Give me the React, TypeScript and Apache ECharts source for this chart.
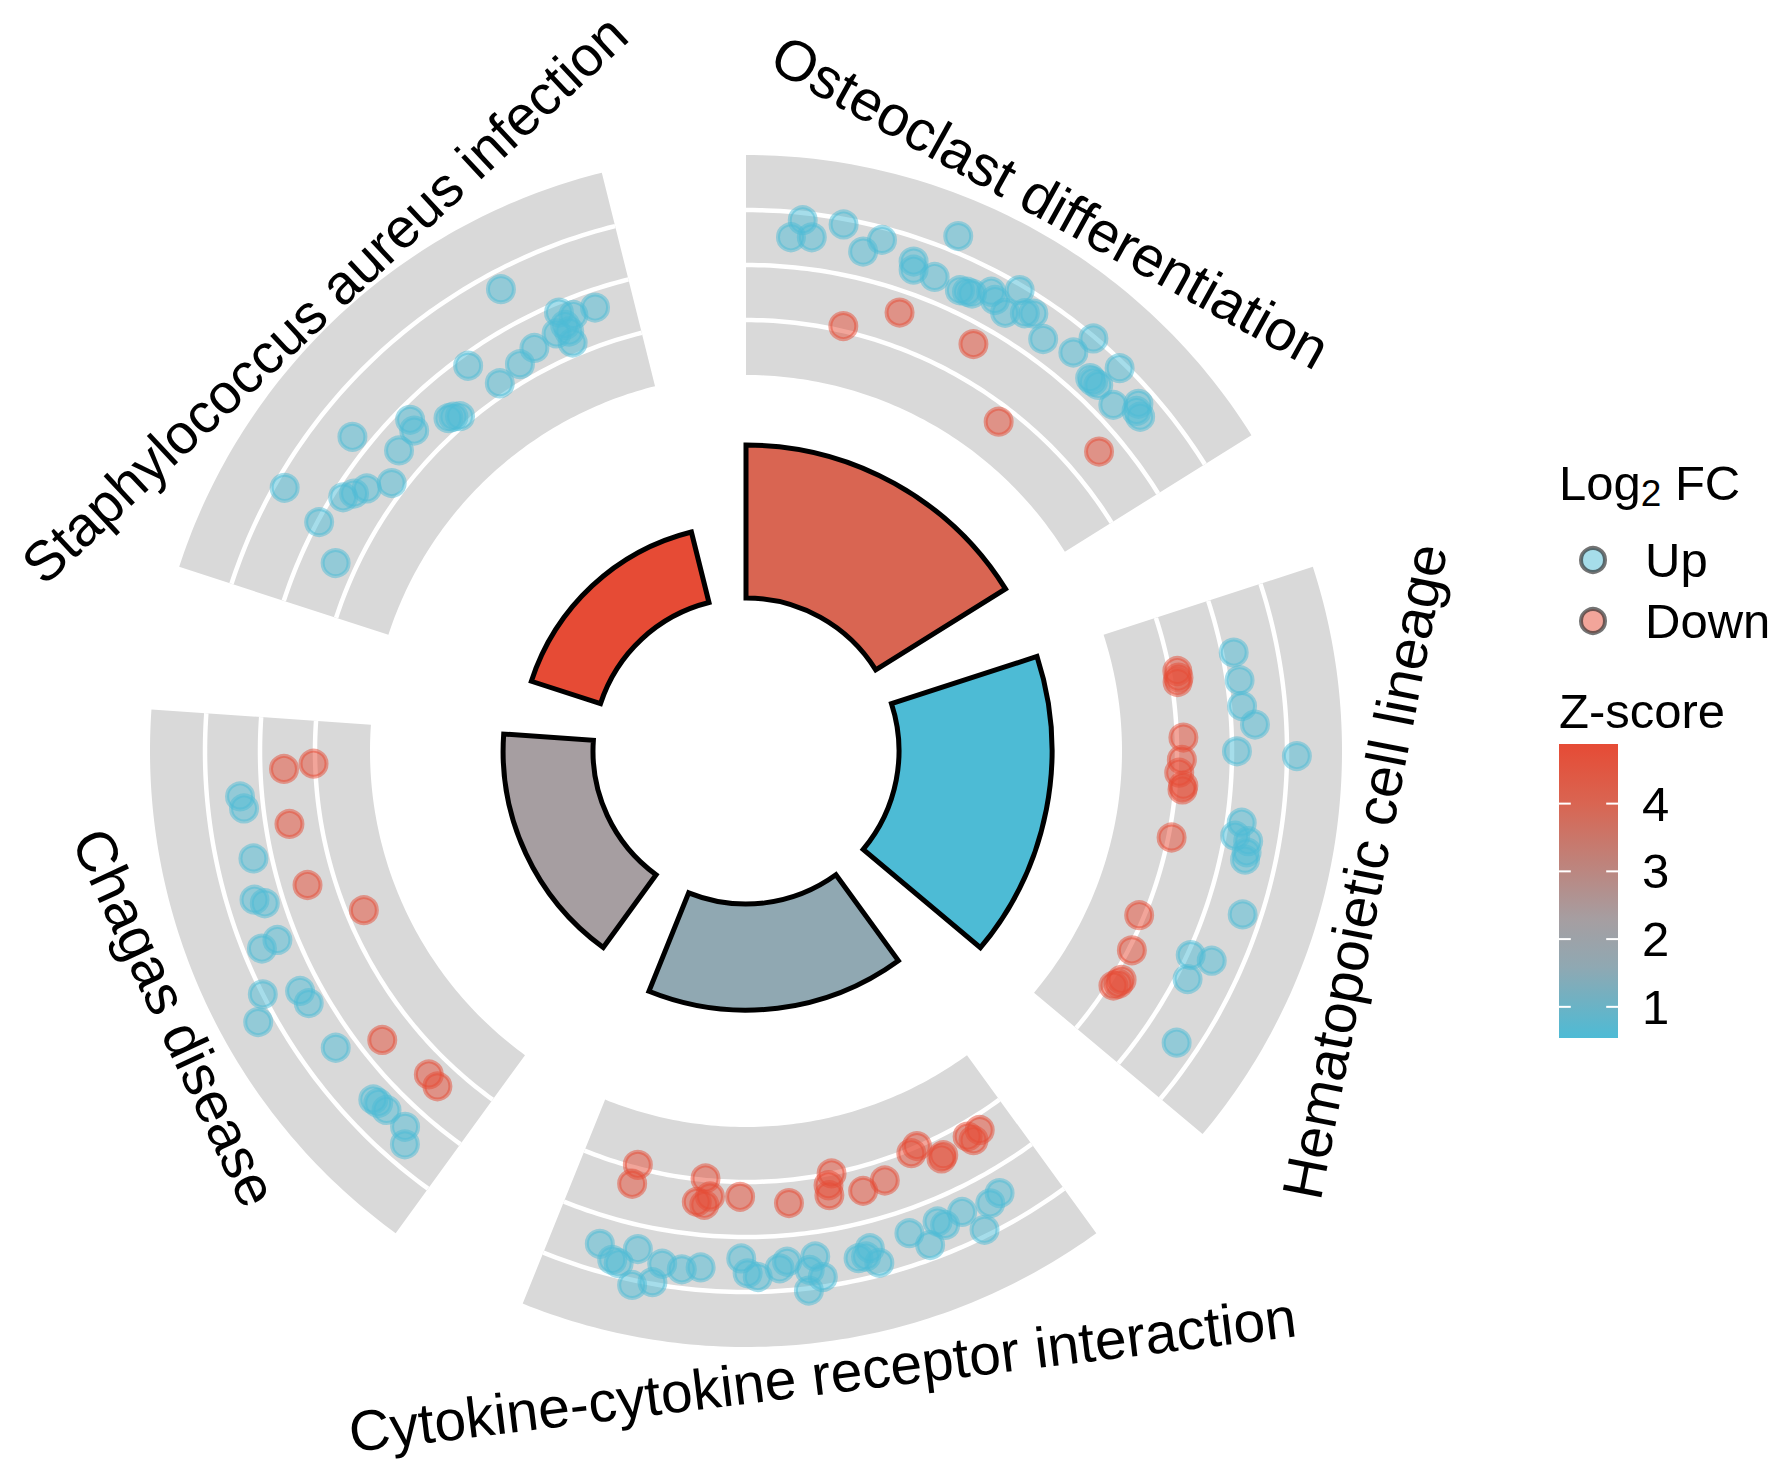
import React, { useEffect, useRef } from 'react';
import * as echarts from 'echarts';

// ---------- data ----------
const categories = [
  'Osteoclast differentiation',
  'Hematopoietic cell lineage',
  'Cytokine-cytokine receptor interaction',
  'Chagas disease',
  'Staphylococcus aureus infection',
];
// inner bar height (e.g. -log10 adjusted p)
const barValues = [8.0, 8.0, 5.55, 4.7, 3.8];
// z-score for bar colour
const zScores = [4.0, 0.54, 1.6, 2.3, 4.88];
const zTicks = [1, 2, 3, 4];
const zMin = 0.54;
const zMax = 4.88;
const zColorStops: [number, string][] = [
  [0.54, '#4DBBD5'],
  [1.6, '#90A8B2'],
  [2.3, '#A69EA1'],
  [4.0, '#D96552'],
  [4.88, '#E64B35'],
];
// outer ring: radial level scale and grid levels
const trackMin = 0;
const trackMax = 4;
const trackLevels = [1, 2, 3];
const directions = ['Up', 'Down'];

// genes: [angular offset within the term's sector (deg), radial level]
const osteoUp: [number, number][] = [
  [6.1, 2.87], [5.0, 2.54], [7.3, 2.58], [10.5, 2.9], [13.2, 2.49], [14.9, 2.78], [22.4, 3.29],
  [18.9, 2.57], [19.2, 2.43], [21.7, 2.44], [25.7, 2.43], [26.3, 2.44], [28.1, 2.63], [28.9, 2.53],
  [30.6, 2.42], [30.7, 2.91], [32.5, 2.6], [33.3, 2.68], [35.8, 2.4], [39.4, 2.54], [40.1, 2.97],
  [42.7, 2.39], [43.9, 2.4], [44.3, 2.89], [46.7, 2.34], [48.5, 2.69], [49.7, 2.56], [48.95, 2.58],
  [43.2, 2.38], [24.9, 2.4],
];
const osteoDown: [number, number][] = [
  [12.9, 1.09], [19.3, 1.61], [29.2, 1.64], [37.5, 0.71], [49.7, 1.58],
];
const hemaUp: [number, number][] = [
  [6.59, 2.21], [9.83, 2.23], [12.83, 2.22], [15.03, 2.43], [18.04, 2.09], [18.53, 3.18], [26.23, 2.27],
  [27.82, 2.19], [28.18, 2.44], [29.44, 2.45], [30.29, 2.45], [36.21, 2.67], [42.65, 2.06], [42.24, 2.45],
  [45.32, 2.2], [52.11, 2.62],
];
const hemaDown: [number, number][] = [
  [7.49, 1.14], [8.92, 1.11], [8.36, 1.14], [16.24, 1.12], [19.16, 1.09], [20.87, 1.05], [22.54, 1.14],
  [23.03, 1.13], [29.49, 1.06], [40.66, 0.91], [45.32, 1.06], [49.35, 1.16], [50.56, 1.09], [50.0, 1.15],
];
const cytoUp: [number, number][] = [
  [52.52, 2.51], [50.73, 2.73], [49.96, 2.76], [48.25, 2.43], [48.04, 3.09], [45.99, 2.97], [45.28, 2.61],
  [43.06, 2.66], [41.02, 2.59], [36.54, 2.39], [35.82, 2.66], [34.72, 2.73], [32.28, 2.59], [31.4, 2.48],
  [28.2, 2.44], [29.0, 2.67], [27.69, 2.83], [29.35, 3.04], [23.49, 2.61], [22.01, 2.48], [21.4, 2.78],
  [22.64, 2.61], [17.28, 2.42], [15.56, 2.75], [13.85, 2.4], [13.21, 2.51], [10.88, 2.42], [9.52, 2.89],
  [7.63, 2.51], [6.16, 2.43],
];
const cytoDown: [number, number][] = [
  [50.65, 0.94], [50.74, 1.3], [41.41, 0.97], [42.23, 1.41], [40.62, 1.29], [41.25, 1.45], [36.76, 1.27],
  [30.57, 1.42], [24.55, 1.0], [25.24, 1.2], [25.37, 1.38], [21.09, 1.44], [18.09, 1.37], [13.66, 1.07],
  [12.6, 0.99], [9.98, 1.34], [6.11, 1.25], [4.34, 1.26], [5.69, 1.36], [10.37, 1.38],
];
const chagasUp: [number, number][] = [
  [48.87, 2.4], [47.47, 2.35], [41.7, 2.33], [37.17, 2.5], [36.44, 2.34], [32.04, 2.35], [31.8, 2.67],
  [27.27, 3.0], [24.94, 3.31], [25.72, 2.37], [24.03, 2.34], [18.12, 2.37], [10.26, 2.42], [9.04, 2.4],
  [6.21, 2.39], [4.93, 2.63], [10.93, 2.44],
];
const chagasDown: [number, number][] = [
  [51.78, 1.57], [52.32, 1.03], [44.92, 1.57], [37.01, 1.5], [31.39, 0.69], [15.54, 1.61], [8.44, 1.4],
  [6.62, 1.45],
];
const staphUp: [number, number][] = [
  [44.05, 2.67], [48.9, 1.83], [50.4, 1.69], [53.2, 1.68], [47.6, 1.5], [49.15, 1.44], [49.0, 1.23],
  [44.3, 1.44], [41.7, 1.31], [38.2, 1.21], [36.2, 1.8], [26.6, 1.74], [26.0, 1.55], [22.9, 1.51],
  [30.8, 1.24], [31.5, 1.17], [20.6, 2.32], [11.7, 2.82], [14.2, 1.82], [15.3, 1.69], [16.7, 1.55],
  [19.1, 1.24], [10.2, 1.97], [6.6, 1.37], [30.2, 1.28], [49.0, 1.58],
];
const staphDown: [number, number][] = [];

const upByCategory = [osteoUp, hemaUp, cytoUp, chagasUp, staphUp];
const downByCategory = [osteoDown, hemaDown, cytoDown, chagasDown, staphDown];

// ---------- layout / style ----------
const W = 1774;
const H = 1472;
const CX = 746;
const CY = 751;
const SLOT = 72;
const SPAN = 58;
// label distance from centre per term (the long top-left one is kept clear of the page edge)
const LABEL_R = [628, 630, 628, 630, 618];
const LABEL_FONT = [57, 57, 57, 57, 56];
const FONT = '"Liberation Sans", Arial, Helvetica, sans-serif';
const UP_COLOR = '#4DBBD5';
const DOWN_COLOR = '#E64B35';

function hexToRgb(h: string) {
  const n = parseInt(h.slice(1), 16);
  return [(n >> 16) & 255, (n >> 8) & 255, n & 255];
}
function zColor(z: number) {
  const s = zColorStops;
  if (z <= s[0][0]) return s[0][1];
  if (z >= s[s.length - 1][0]) return s[s.length - 1][1];
  for (let k = 0; k < s.length - 1; k++) {
    if (z >= s[k][0] && z <= s[k + 1][0]) {
      const t = (z - s[k][0]) / (s[k + 1][0] - s[k][0]);
      const a = hexToRgb(s[k][1]);
      const b = hexToRgb(s[k + 1][1]);
      const c = a.map((v, j) => Math.round(v + (b[j] - v) * t));
      return `rgb(${c[0]},${c[1]},${c[2]})`;
    }
  }
  return s[0][1];
}
function rgba(hex: string, a: number) {
  const c = hexToRgb(hex);
  return `rgba(${c[0]},${c[1]},${c[2]},${a})`;
}

function buildOption() {
  const labelGraphics = categories.map((name, i) => {
    const aMid = i * SLOT + SPAN / 2;
    let th = 90 - aMid;
    if (th <= -180) th += 360;
    const rad = (th * Math.PI) / 180;
    const x = CX + LABEL_R[i] * Math.cos(rad);
    const y = CY - LABEL_R[i] * Math.sin(rad);
    const rotDeg = th > 0 ? th - 90 : th + 90;
    return {
      type: 'text',
      x,
      y,
      z: 10,
      rotation: (rotDeg * Math.PI) / 180,
      silent: true,
      style: {
        text: name,
        fontSize: LABEL_FONT[i],
        fontFamily: FONT,
        fill: '#000',
        align: 'center',
        verticalAlign: 'middle',
        textAlign: 'center',
        textVerticalAlign: 'middle',
      },
    };
  });

  const legendColors = [UP_COLOR, DOWN_COLOR];
  const legendKeyY = [560, 621];
  const legendGraphics: any[] = [];
  directions.forEach((d, k) => {
    legendGraphics.push({
      type: 'circle',
      silent: true,
      shape: { cx: 1593, cy: legendKeyY[k], r: 12 },
      style: { fill: rgba(legendColors[k], 0.5), stroke: 'rgba(40,40,40,0.65)', lineWidth: 4 },
    });
    legendGraphics.push({
      type: 'text',
      silent: true,
      x: 1645,
      y: legendKeyY[k],
      style: {
        text: d,
        fontSize: 49,
        fontFamily: FONT,
        fill: '#000',
        align: 'left',
        verticalAlign: 'middle',
        textAlign: 'left',
        textVerticalAlign: 'middle',
      },
    });
  });

  const titleGraphics = [
    {
      type: 'text',
      left: 1559,
      top: 458,
      silent: true,
      style: {
        text: '{n|Log}{s|2}{n| FC}',
        fill: '#000',
        rich: {
          n: { fontSize: 49, fontFamily: FONT, fill: '#000', lineHeight: 58 },
          s: { fontSize: 37, fontFamily: FONT, fill: '#000', lineHeight: 37, verticalAlign: 'bottom' },
        },
      },
    },
    {
      type: 'text',
      left: 1559,
      top: 686,
      silent: true,
      style: { text: 'Z-score', fontSize: 49, fontFamily: FONT, fill: '#000' },
    },
  ];

  const toPolar = (groups: [number, number][][]) =>
    groups.flatMap((pts, i) => pts.map(([o, v]) => [v, i * SLOT + o]));

  return {
    animation: false,
    backgroundColor: '#fff',
    polar: [
      { center: [CX, CY], radius: [153, 306] },
      { center: [CX, CY], radius: [376, 596] },
    ],
    angleAxis: [
      {
        polarIndex: 0,
        type: 'category',
        data: categories,
        startAngle: 90 + (SLOT - SPAN) / 2,
        clockwise: true,
        show: false,
      },
      {
        polarIndex: 1,
        type: 'value',
        min: 0,
        max: 360,
        startAngle: 90,
        clockwise: true,
        show: false,
      },
    ],
    radiusAxis: [
      { polarIndex: 0, type: 'value', min: 0, max: 8, show: false },
      { polarIndex: 1, type: 'value', min: trackMin, max: trackMax, show: false },
    ],
    grid: [{ left: 1559, top: 744, width: 59, height: 294 }],
    xAxis: [{ gridIndex: 0, type: 'value', min: 0, max: 1, show: false }],
    yAxis: [
      {
        gridIndex: 0,
        type: 'value',
        min: zMin,
        max: zMax,
        position: 'right',
        axisLine: { show: false },
        axisTick: { show: false },
        splitLine: { show: false },
        axisLabel: {
          customValues: zTicks,
          fontSize: 49,
          color: '#000',
          fontFamily: FONT,
          margin: 24,
        },
      },
    ],
    graphic: [...labelGraphics, ...legendGraphics, ...titleGraphics],
    series: [
      {
        type: 'custom',
        name: 'tracks',
        coordinateSystem: 'polar',
        polarIndex: 1,
        silent: true,
        z: 1,
        data: categories.map((_, i) => [trackMin, i * SLOT]),
        renderItem: (params: any, api: any) => {
          const i = params.dataIndex;
          const a0 = i * SLOT;
          const a1 = a0 + SPAN;
          const steps = 80;
          const arc = (lv: number, rev = false) => {
            const pts: number[][] = [];
            for (let k = 0; k <= steps; k++) {
              const t = rev ? 1 - k / steps : k / steps;
              pts.push(api.coord([lv, a0 + (a1 - a0) * t]));
            }
            return pts;
          };
          const children: any[] = [
            {
              type: 'polygon',
              shape: { points: [...arc(trackMax), ...arc(trackMin, true)] },
              style: { fill: '#D9D9D9' },
            },
          ];
          trackLevels.forEach((lv) => {
            children.push({
              type: 'polyline',
              shape: { points: arc(lv) },
              style: { stroke: '#FFFFFF', lineWidth: 4.5, fill: null },
            });
          });
          return { type: 'group', children };
        },
      },
      {
        type: 'bar',
        name: 'terms',
        coordinateSystem: 'polar',
        polarIndex: 0,
        barCategoryGap: `${((SLOT - SPAN) / SLOT) * 100}%`,
        z: 2,
        silent: true,
        data: barValues.map((v, i) => ({
          value: v,
          itemStyle: { color: zColor(zScores[i]), borderColor: '#000', borderWidth: 5 },
        })),
      },
      {
        type: 'scatter',
        name: directions[0],
        coordinateSystem: 'polar',
        polarIndex: 1,
        z: 3,
        silent: true,
        symbol: 'circle',
        symbolSize: 26,
        itemStyle: { color: rgba(UP_COLOR, 0.5), borderColor: rgba(UP_COLOR, 0.5), borderWidth: 4, opacity: 1 },
        data: toPolar(upByCategory),
      },
      {
        type: 'scatter',
        name: directions[1],
        coordinateSystem: 'polar',
        polarIndex: 1,
        z: 3,
        silent: true,
        symbol: 'circle',
        symbolSize: 26,
        itemStyle: { color: rgba(DOWN_COLOR, 0.5), borderColor: rgba(DOWN_COLOR, 0.5), borderWidth: 4, opacity: 1 },
        data: toPolar(downByCategory),
      },
      {
        type: 'custom',
        name: 'colorbar',
        coordinateSystem: 'cartesian2d',
        xAxisIndex: 0,
        yAxisIndex: 0,
        silent: true,
        data: [[0, zMin]],
        renderItem: (params: any, api: any) => {
          const tl = api.coord([0, zMax]);
          const br = api.coord([1, zMin]);
          const w = br[0] - tl[0];
          const h = br[1] - tl[1];
          const stops = zColorStops
            .map(([z, c]) => ({ offset: (zMax - z) / (zMax - zMin), color: c }))
            .sort((a, b) => a.offset - b.offset);
          const children: any[] = [
            {
              type: 'rect',
              shape: { x: tl[0], y: tl[1], width: w, height: h },
              style: { fill: new echarts.graphic.LinearGradient(0, 0, 0, 1, stops) },
            },
          ];
          const tk = w * 0.2;
          zTicks.forEach((t) => {
            const p = api.coord([0, t]);
            children.push({
              type: 'line',
              shape: { x1: tl[0], y1: p[1], x2: tl[0] + tk, y2: p[1] },
              style: { stroke: '#FFFFFF', lineWidth: 2 },
            });
            children.push({
              type: 'line',
              shape: { x1: br[0] - tk, y1: p[1], x2: br[0], y2: p[1] },
              style: { stroke: '#FFFFFF', lineWidth: 2 },
            });
          });
          return { type: 'group', children };
        },
      },
    ],
  };
}

export default function App() {
  const ref = useRef<HTMLDivElement>(null);
  useEffect(() => {
    if (!ref.current) return;
    const chart = echarts.init(ref.current, undefined, { renderer: 'svg' });
    chart.setOption(buildOption() as any);
    return () => chart.dispose();
  }, []);
  return (
    <div
      ref={ref}
      style={{ position: 'absolute', left: 0, top: 0, width: `${W}px`, height: `${H}px`, background: '#fff' }}
    />
  );
}
